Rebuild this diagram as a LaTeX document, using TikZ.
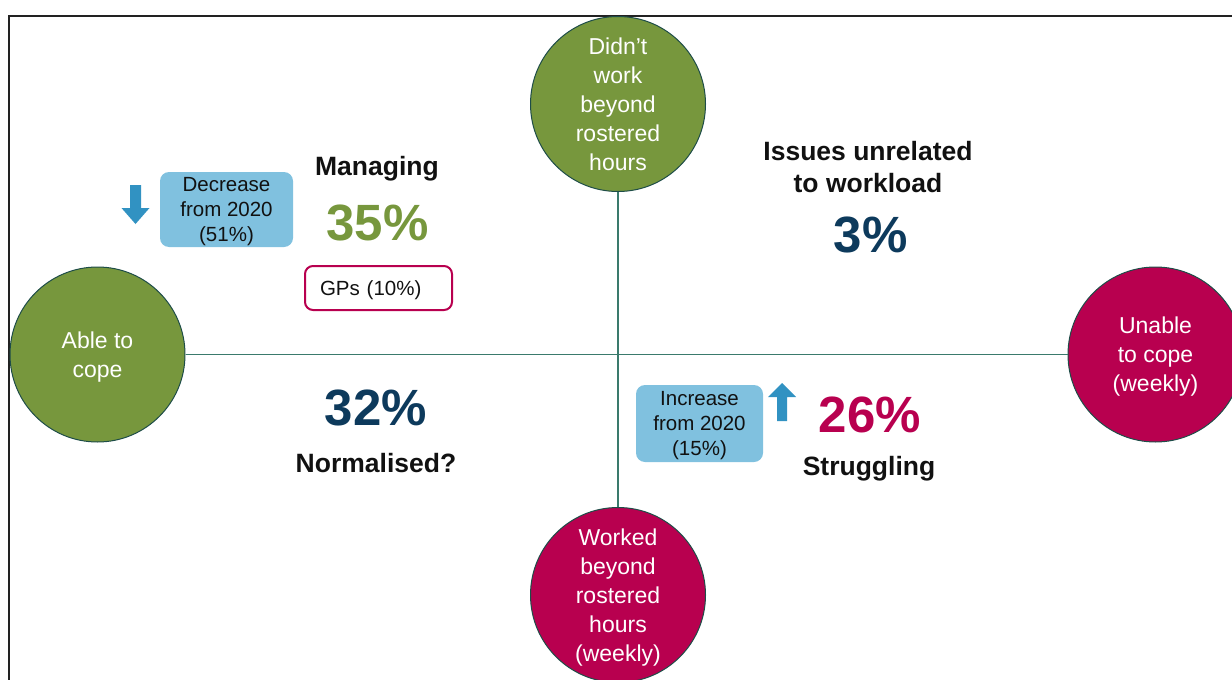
\documentclass[tikz,border=0pt]{standalone}
\usepackage{fontspec}
\setmainfont{Liberation Sans}
\definecolor{cgreen}{HTML}{77973D}
\definecolor{cmag}{HTML}{B8004F}
\definecolor{cnavy}{HTML}{0D3A5C}
\definecolor{cbox}{HTML}{80C1DF}
\definecolor{carrow}{HTML}{3192C2}
\definecolor{cedge}{HTML}{1E4D48}
\definecolor{caxis}{HTML}{3A7A6C}
\definecolor{cink}{HTML}{111111}
\definecolor{cframe}{HTML}{222222}
% line strut: every line gets the full height of one baselineskip
\newcommand\ls{\rule[-.22\baselineskip]{0pt}{\baselineskip}}
\begin{document}
\begin{tikzpicture}[x=1pt,y=-1pt,
  bubble/.style={circle, draw=cedge, line width=1pt, minimum size=175pt,
    inner sep=0pt, text=white, align=center,
    font=\fontsize{23}{29}\selectfont},
  heading/.style={inner sep=0pt, text=cink, align=center,
    font=\bfseries\fontsize{26.5}{32}\selectfont},
  pct/.style={inner sep=0pt, anchor=base,
    font=\bfseries\fontsize{51}{60}\selectfont},
  note/.style={rounded corners=9pt, fill=cbox, minimum width=133pt,
    minimum height=75pt, inner sep=0pt, align=center, text=cink,
    font=\fontsize{20.5}{25}\selectfont},
  axis/.style={draw=caxis, line width=1.2pt}]
\useasboundingbox (0,0) rectangle (1232,680);
\clip (0,0) rectangle (1232,680);

% outer frame (only the top and left edges lie inside the page)
\draw[cframe, line width=2pt] (9.2,700) -- (9.2,15.8) -- (1250,15.8);

% the four poles
\node[bubble, fill=cgreen] (top) at (618,104)
  {\ls Didn’t\\\ls work\\\ls beyond\\\ls rostered\\\ls hours};
\node[bubble, fill=cmag] (bottom) at (618,595)
  {\ls Worked\\\ls beyond\\\ls rostered\\\ls hours\\\ls (weekly)};
\node[bubble, fill=cgreen] (left) at (97.5,354.5)
  {\ls Able to\\\ls cope};
\node[bubble, fill=cmag] (right) at (1155.5,354.5)
  {\ls Unable\\\ls to cope\\\ls (weekly)};

% axes
\draw[axis] (left) -- (right);
\draw[axis] (top) -- (bottom);

% top-left quadrant
\node[heading] (managing) at (377,167) {\ls Managing};
\node[pct, text=cgreen] (p35) at (377.5,240) {35\%};
\node[note] (decrease) at (226.5,209.5) {\ls Decrease\\\ls from 2020\\\ls (51\%)};
\fill[carrow] (130,185) -- (141,185) -- (141,208) -- (149.5,208)
  -- (135.5,224) -- (121.5,208) -- (130,208) -- cycle;
\node[draw=cmag, line width=2pt, rounded corners=8pt, fill=white,
  text width=117pt, inner xsep=15pt, inner ysep=0pt, minimum height=44pt,
  align=left, text=cink, font=\fontsize{20.5}{25}\selectfont]
  (gps) at (378.5,288) {\ls GPs (10\%)};

% top-right quadrant
\node[heading] (issues) at (868,168) {\ls Issues unrelated\\\ls to workload};
\node[pct, text=cnavy] (p3) at (870.5,252) {3\%};

% bottom-left quadrant
\node[pct, text=cnavy] (p32) at (376,425) {32\%};
\node[heading] (normalised) at (376,464) {\ls Normalised?};

% bottom-right quadrant
\node[note, minimum width=127pt, minimum height=77pt] (increase)
  at (699.5,423.5) {\ls Increase\\\ls from 2020\\\ls (15\%)};
\fill[carrow] (777,421) -- (787,421) -- (787,397) -- (796,397)
  -- (782,383) -- (768,397) -- (777,397) -- cycle;
\node[pct, text=cmag] (p26) at (870,432) {26\%};
\node[heading] (struggling) at (869,467) {\ls Struggling};
\end{tikzpicture}
\end{document}
